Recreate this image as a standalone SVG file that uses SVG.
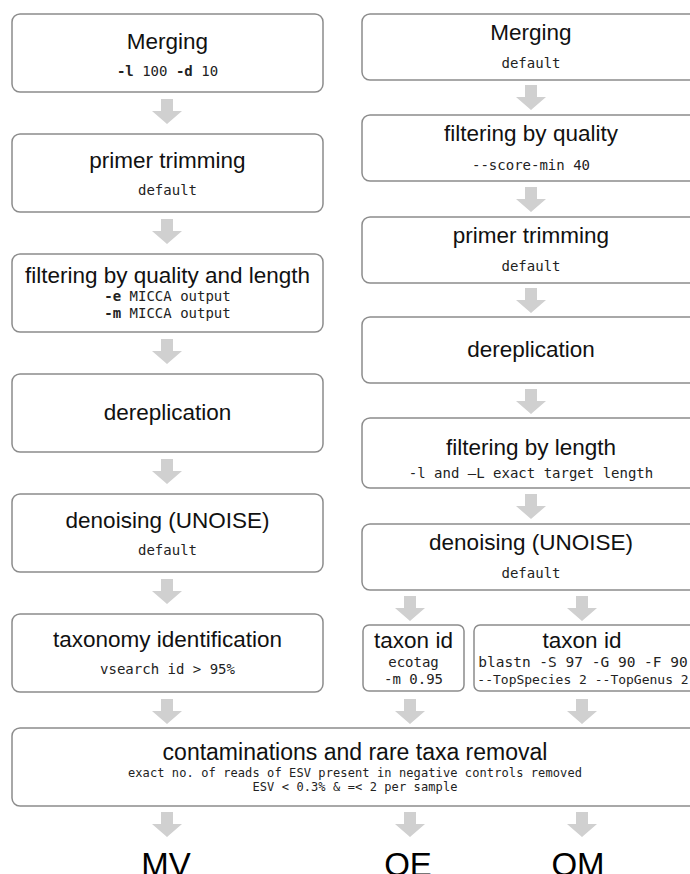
<svg xmlns="http://www.w3.org/2000/svg" xmlns:xlink="http://www.w3.org/1999/xlink" width="690" height="874" viewBox="0 0 690 874">
<style>
.box{fill:#fff;stroke:#8c8c8c;stroke-width:1.5}
.t{font-family:"Liberation Sans",Arial,sans-serif;font-size:22.5px;fill:#111;text-anchor:middle}
.m{font-family:"DejaVu Sans Mono","Liberation Mono",monospace;font-size:14px;fill:#222;text-anchor:middle}
.b{font-weight:bold}
.s{font-size:12px;letter-spacing:0.1px}
.big{font-family:"Liberation Sans",Arial,sans-serif;font-size:33px;fill:#000;text-anchor:middle}
.arr{fill:#d0d0d0}
</style>
<defs>
<path id="a" d="M-6,0H6V12H15L0,25L-15,12H-6Z"/>
</defs>
<rect width="690" height="874" fill="#fff"/>
<g id="connectors" class="arr">
<use href="#a" x="167" y="99"/>
<use href="#a" x="167" y="219"/>
<use href="#a" x="167" y="339"/>
<use href="#a" x="167" y="459"/>
<use href="#a" x="167" y="579"/>
<use href="#a" x="167" y="699"/>
<use href="#a" x="531" y="85"/>
<use href="#a" x="531" y="187"/>
<use href="#a" x="531" y="288"/>
<use href="#a" x="531" y="389"/>
<use href="#a" x="531" y="494"/>
<use href="#a" x="410" y="596"/>
<use href="#a" x="582" y="596"/>
<use href="#a" x="410" y="699"/>
<use href="#a" x="582" y="699"/>
<use href="#a" x="167" y="812"/>
<use href="#a" x="410" y="812"/>
<use href="#a" x="582" y="812"/>
</g>
<g id="mv-merging"><rect class="box" x="12" y="14" width="311" height="78" rx="8"/><text class="t" x="167.5" y="49">Merging</text><text class="m" x="167.5" y="76"><tspan class="b">-l</tspan> 100 <tspan class="b">-d</tspan> 10</text></g>
<g id="mv-primer"><rect class="box" x="12" y="134" width="311" height="78" rx="8"/><text class="t" x="167.5" y="168">primer trimming</text><text class="m" x="167.5" y="195">default</text></g>
<g id="mv-filter"><rect class="box" x="12" y="254" width="311" height="78" rx="8"/><text class="t" x="167.5" y="283">filtering by quality and length</text><text class="m" x="167.5" y="301"><tspan class="b">-e</tspan> MICCA output</text><text class="m" x="167.5" y="318"><tspan class="b">-m</tspan> MICCA output</text></g>
<g id="mv-derep"><rect class="box" x="12" y="374" width="311" height="78" rx="8"/><text class="t" x="167.5" y="420">dereplication</text></g>
<g id="mv-denoise"><rect class="box" x="12" y="494" width="311" height="78" rx="8"/><text class="t" x="167.5" y="528">denoising (UNOISE)</text><text class="m" x="167.5" y="555">default</text></g>
<g id="mv-taxonomy"><rect class="box" x="12" y="614" width="311" height="78" rx="8"/><text class="t" x="167.5" y="647">taxonomy identification</text><text class="m" x="167.5" y="674">vsearch id &gt; 95%</text></g>
<g id="o-merging"><rect class="box" x="362" y="14" width="336" height="66" rx="8"/><text class="t" x="531" y="40">Merging</text><text class="m" x="531" y="68">default</text></g>
<g id="o-quality"><rect class="box" x="362" y="115" width="336" height="66" rx="8"/><text class="t" x="531" y="141">filtering by quality</text><text class="m" x="531" y="170">--score-min 40</text></g>
<g id="o-primer"><rect class="box" x="362" y="217" width="336" height="66" rx="8"/><text class="t" x="531" y="243">primer trimming</text><text class="m" x="531" y="271">default</text></g>
<g id="o-derep"><rect class="box" x="362" y="317" width="336" height="66" rx="8"/><text class="t" x="531" y="357">dereplication</text></g>
<g id="o-length"><rect class="box" x="362" y="418" width="336" height="70" rx="8"/><text class="t" x="531" y="455">filtering by length</text><text class="m" x="531" y="478">-l and –L exact target length</text></g>
<g id="o-denoise"><rect class="box" x="362" y="524" width="336" height="66" rx="8"/><text class="t" x="531" y="550">denoising (UNOISE)</text><text class="m" x="531" y="578">default</text></g>
<g id="oe-taxon"><rect class="box" x="363" y="625" width="101" height="66" rx="6"/><text class="t" x="413.5" y="648">taxon id</text><text class="m" x="413.5" y="667">ecotag</text><text class="m" x="413.5" y="684">-m 0.95</text></g>
<g id="om-taxon"><rect class="box" x="474" y="625" width="226" height="66" rx="6"/><text class="t" x="582" y="648">taxon id</text><text class="m" x="583" y="667" style="font-size:14.5px">blastn -S 97 -G 90 -F 90</text><text class="m" x="583" y="684" style="font-size:13px">--TopSpecies 2 --TopGenus 2</text></g>
<g id="contam"><rect class="box" x="12" y="728" width="686" height="78" rx="8"/><text class="t" x="355" y="760" style="font-size:23px">contaminations and rare taxa removal</text><text class="m s" x="355" y="777">exact no. of reads of ESV present in negative controls removed</text><text class="m s" x="355" y="791">ESV &lt; 0.3% &amp; =&lt; 2 per sample</text></g>
<g id="outputs"><text class="big" x="166" y="876">MV</text><text class="big" x="408" y="876">OE</text><text class="big" x="578" y="876">OM</text></g>
</svg>
